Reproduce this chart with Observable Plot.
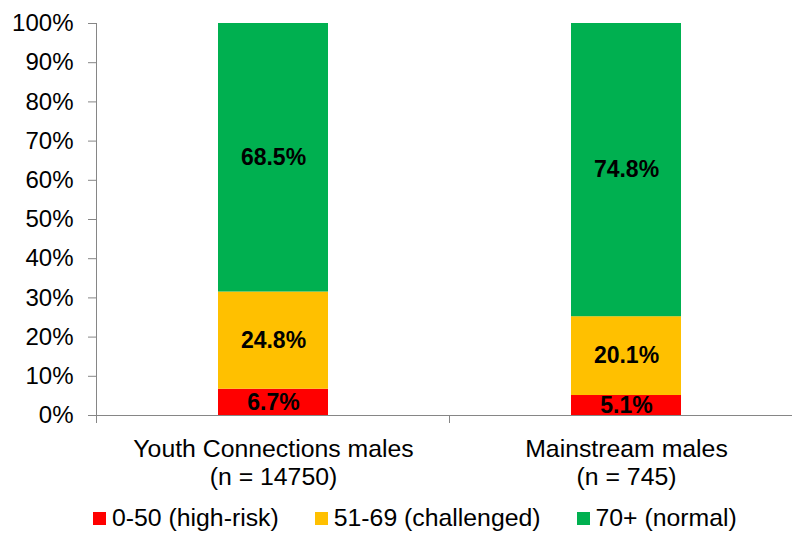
<!DOCTYPE html>
<html>
<head>
<meta charset="utf-8">
<script src="https://cdn.jsdelivr.net/npm/d3@7"></script>
<script src="https://cdn.jsdelivr.net/npm/@observablehq/plot@0.6"></script>
<style>
  html, body { margin: 0; padding: 0; background: #fff; }
  body { width: 792px; height: 536px; overflow: hidden; font-family: "Liberation Sans", Arial, sans-serif; }
  #legend { display: flex; align-items: center; gap: 36px; margin-left: 93px; height: 36px; font-size: 24.8px; color: #000; }
  .item { display: flex; align-items: center; }
  .swatch { width: 13px; height: 13px; margin-right: 6px; }
</style>
</head>
<body>
<div id="chart"></div>
<div id="legend"></div>
<script>
const categories = ["Youth Connections males", "Mainstream males"];
const sampleSizes = [14750, 745];
const seriesNames = ["0-50 (high-risk)", "51-69 (challenged)", "70+ (normal)"];
const seriesColors = ["#FF0000", "#FFC000", "#00B050"];
const highRisk = [6.7, 5.1];
const challenged = [24.8, 20.1];
const normal = [68.5, 74.8];
const yTicks = [0, 10, 20, 30, 40, 50, 60, 70, 80, 90, 100];

const seriesValues = [highRisk, challenged, normal];
const data = [];
seriesNames.forEach((s, si) => {
  categories.forEach((c, ci) => {
    data.push({category: c, series: s, value: seriesValues[si][ci]});
  });
});

const axisGray = "#868686";
const chart = Plot.plot({
  width: 792,
  height: 500,
  marginLeft: 96,
  marginRight: 0,
  marginTop: 23,
  marginBottom: 85,
  style: {fontFamily: "'Liberation Sans', Arial, sans-serif", background: "#fff", overflow: "visible"},
  x: {domain: categories, range: [96, 803], paddingInner: 0.689, paddingOuter: 0.3445, axis: null, label: null},
  y: {domain: [0, 100], axis: null, label: null},
  color: {domain: seriesNames, range: seriesColors},
  marks: [
    Plot.barY(data, {x: "category", y: "value", fill: "series", z: "series", order: seriesNames}),
    Plot.text(data, Plot.stackY({
      x: "category", y: "value", z: "series", order: seriesNames,
      text: d => d.value.toFixed(1) + "%",
      fontSize: 23, fontWeight: "bold", fill: "#000", textAnchor: "middle", lineAnchor: "middle"
    })),
    Plot.frame({anchor: "left", stroke: axisGray}),
    Plot.frame({anchor: "bottom", stroke: axisGray}),
    Plot.axisY(yTicks, {
      label: null,
      tickSize: 8, tickPadding: 15, tickFormat: d => d + "%",
      fontSize: 24, stroke: axisGray, fill: "#000"
    }),
    Plot.axisX(categories, {
      label: null,
      tickSize: 0, tickPadding: 22, fontSize: 24.8, lineHeight: 1.13, fill: "#000",
      tickFormat: (d) => d + "\n(n = " + sampleSizes[categories.indexOf(d)] + ")"
    })
  ]
});

// category boundary tick marks below the axis line
const xs = chart.scale("x");
const step = xs.step, bw = xs.bandwidth;
const bounds = categories.map(c => xs.apply(c) - (step - bw) / 2);
bounds.push(xs.apply(categories[categories.length - 1]) + bw + (step - bw) / 2);
const y0 = chart.scale("y").apply(0);
const g = d3.select(chart).append("g").attr("stroke", axisGray);
bounds.forEach(b => {
  g.append("line").attr("x1", b).attr("x2", b).attr("y1", y0).attr("y2", y0 + 8);
});

document.getElementById("chart").appendChild(chart);

const legend = d3.select("#legend");
seriesNames.forEach((s, i) => {
  const item = legend.append("div").attr("class", "item");
  item.append("div").attr("class", "swatch").style("background", seriesColors[i]);
  item.append("span").text(s);
});
</script>
</body>
</html>
